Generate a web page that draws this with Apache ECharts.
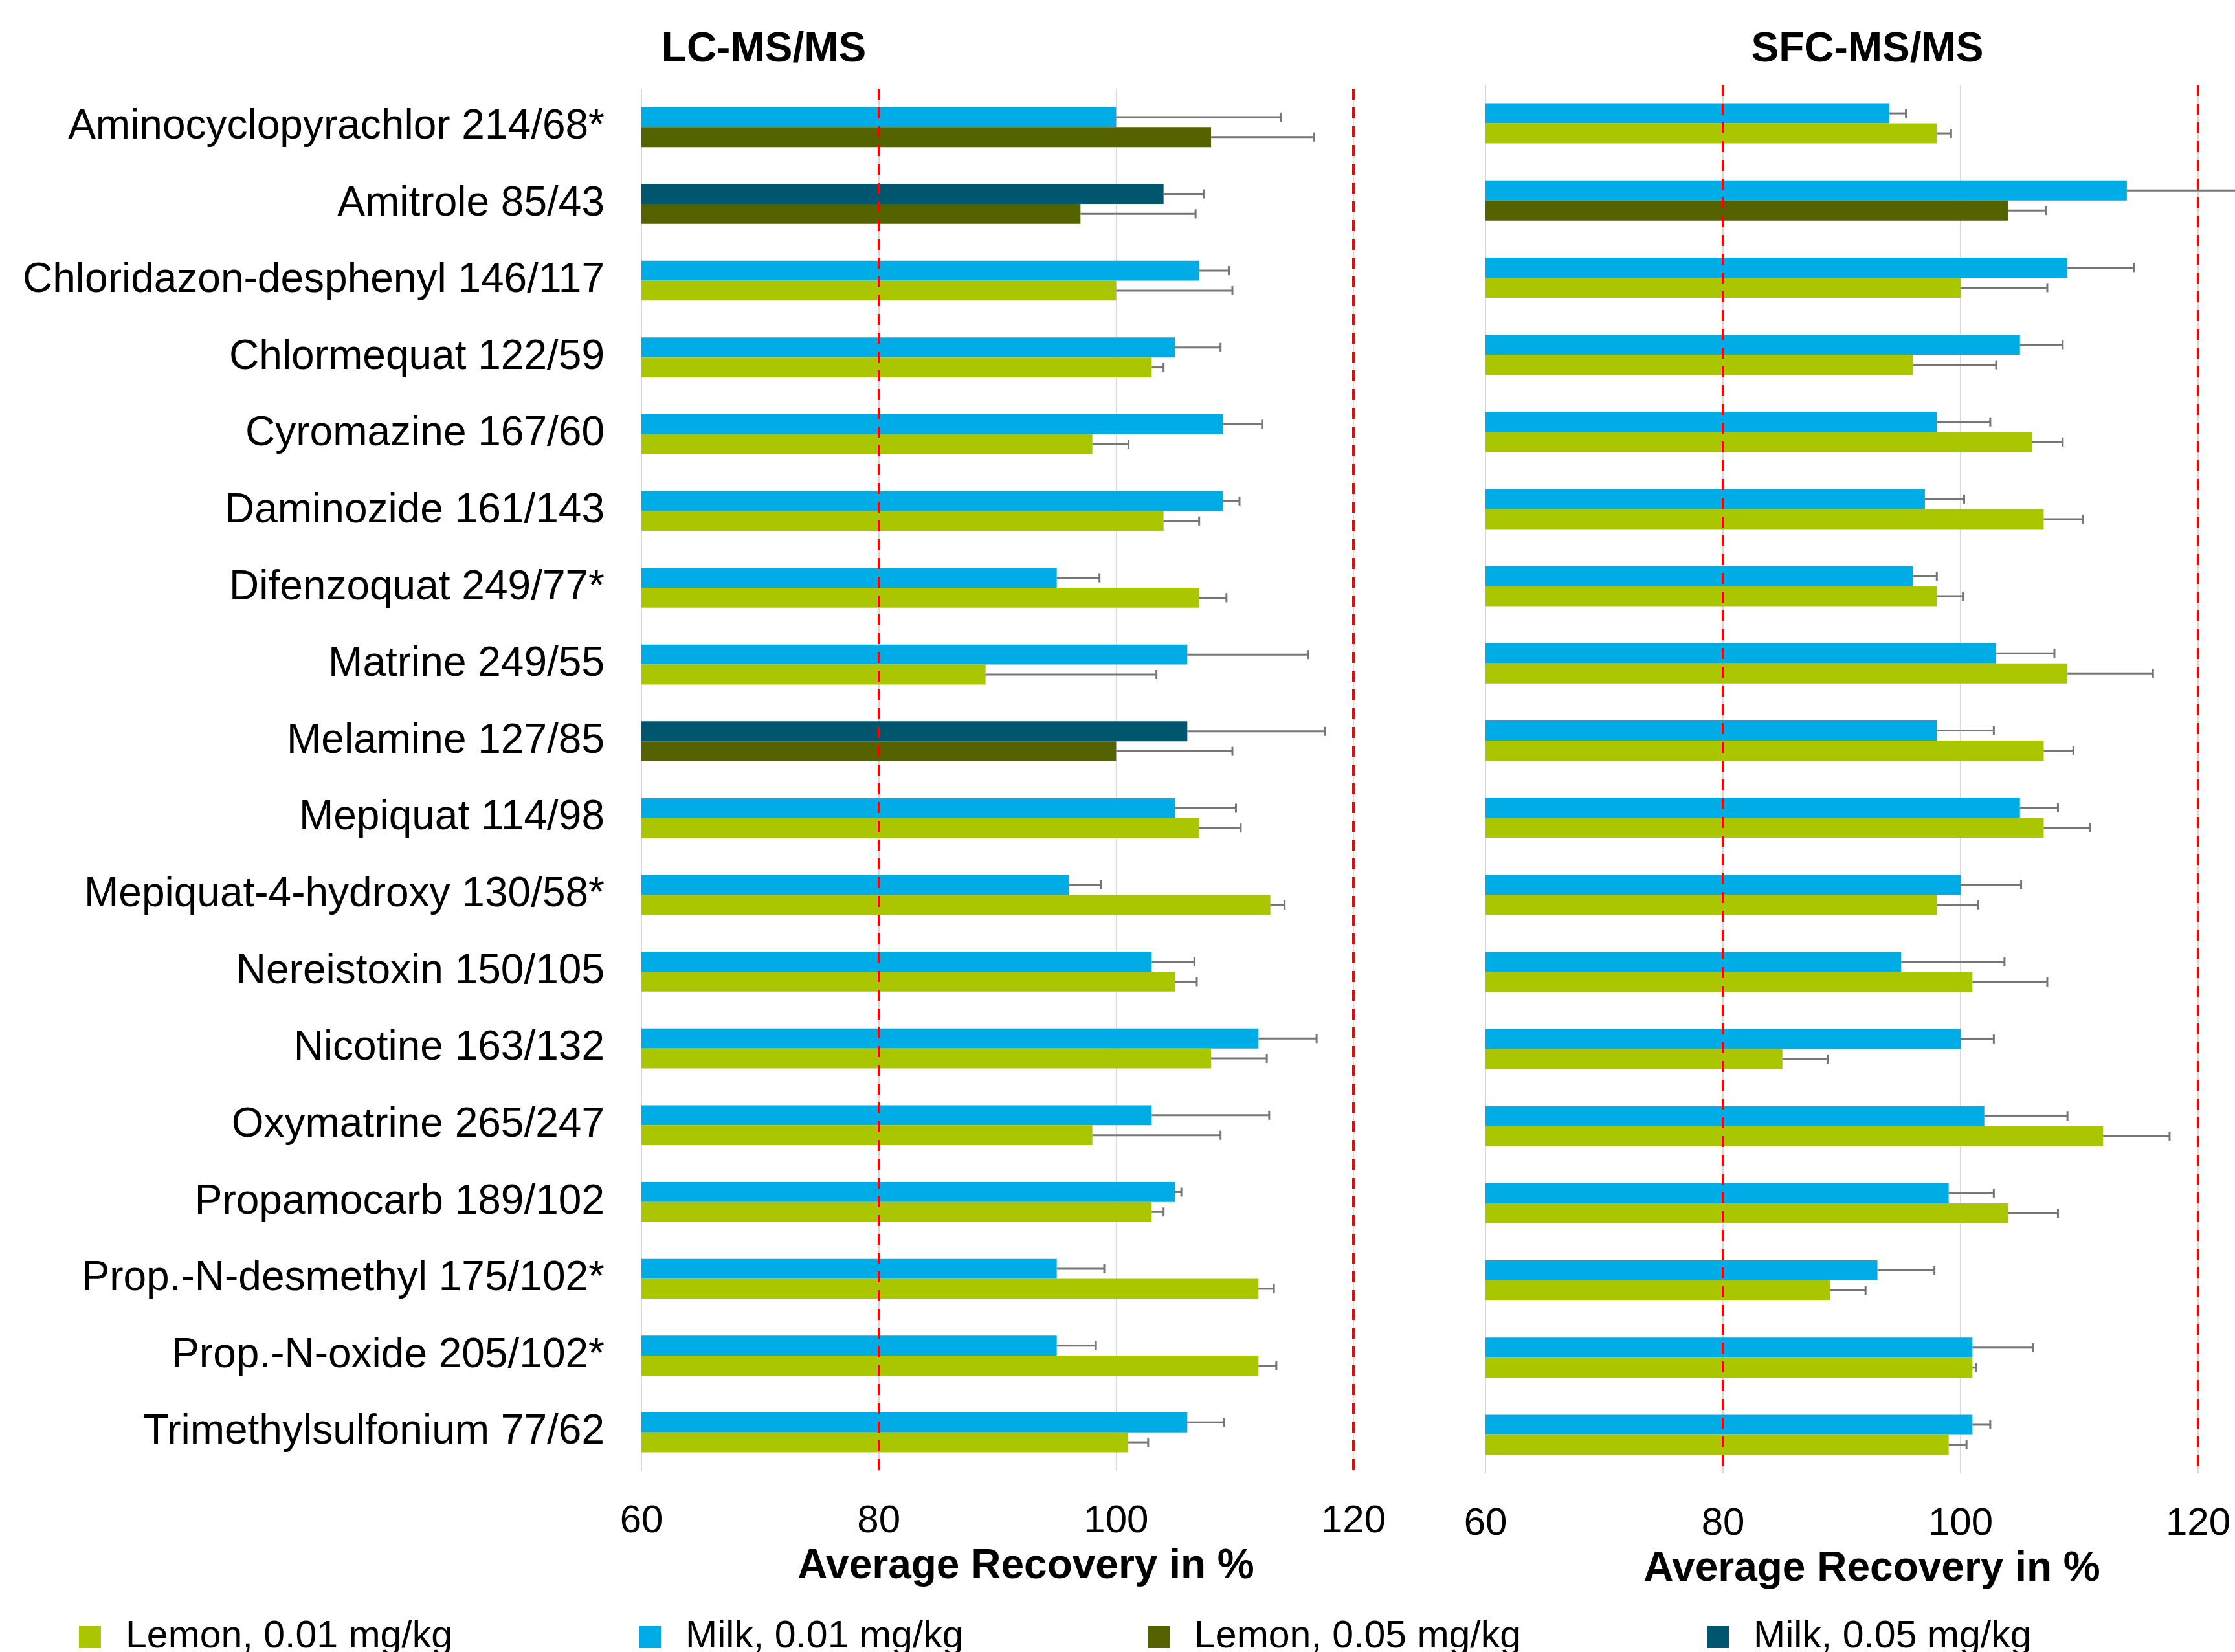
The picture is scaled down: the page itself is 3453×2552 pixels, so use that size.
<!DOCTYPE html>
<html><head><meta charset="utf-8">
<script src="https://cdn.jsdelivr.net/npm/echarts@6/dist/echarts.min.js"></script>
<style>html,body{margin:0;padding:0;background:#fff}#c{width:3453px;height:2552px}</style>
</head><body><div id="c"></div>
<script>
const categories = ['Aminocyclopyrachlor 214/68*','Amitrole 85/43','Chloridazon-desphenyl 146/117','Chlormequat 122/59','Cyromazine 167/60','Daminozide 161/143','Difenzoquat 249/77*','Matrine 249/55','Melamine 127/85','Mepiquat 114/98','Mepiquat-4-hydroxy 130/58*','Nereistoxin 150/105','Nicotine 163/132','Oxymatrine 265/247','Propamocarb 189/102','Prop.-N-desmethyl 175/102*','Prop.-N-oxide 205/102*','Trimethylsulfonium 77/62'];

// LC-MS/MS
const lcMilk      = [100,104,107,105,109,109,95,106,106,105,96,103,112,103,105,95,95,106];
const lcMilkErr   = [13.9,3.4,2.5,3.8,3.3,1.4,3.6,10.2,11.6,5.1,2.7,3.6,4.9,9.9,0.5,4.0,3.3,3.1];
const lcMilkConc  = ['0.01','0.05','0.01','0.01','0.01','0.01','0.01','0.01','0.05','0.01','0.01','0.01','0.01','0.01','0.01','0.01','0.01','0.01'];
const lcLemon     = [108,97,100,103,98,104,107,89,100,107,113,105,108,98,103,112,112,101];
const lcLemonErr  = [8.7,9.7,9.8,1.0,3.05,3.0,2.3,14.4,9.8,3.5,1.2,1.8,4.7,10.8,1.0,1.3,1.5,1.7];
const lcLemonConc = ['0.05','0.05','0.01','0.01','0.01','0.01','0.01','0.01','0.05','0.01','0.01','0.01','0.01','0.01','0.01','0.01','0.01','0.01'];

// SFC-MS/MS
const sfcMilk      = [94,114,109,105,98,97,96,103,98,105,100,95,100,102,99,93,101,101];
const sfcMilkErr   = [1.4,10,5.6,3.6,4.5,3.3,2.0,4.9,4.8,3.2,5.1,8.7,2.8,7.0,3.8,4.8,5.1,1.5];
const sfcMilkConc  = ['0.01','0.01','0.01','0.01','0.01','0.01','0.01','0.01','0.01','0.01','0.01','0.01','0.01','0.01','0.01','0.01','0.01','0.01'];
const sfcLemon     = [98,104,100,96,106,107,98,109,107,107,98,101,85,112,104,89,101,99];
const sfcLemonErr  = [1.2,3.2,7.3,7.0,2.6,3.3,2.2,7.2,2.5,3.9,3.5,6.3,3.8,5.6,4.2,3.0,0.3,1.5];
const sfcLemonConc = ['0.01','0.05','0.01','0.01','0.01','0.01','0.01','0.01','0.01','0.01','0.01','0.01','0.01','0.01','0.01','0.01','0.01','0.01'];

const legendNames = ['Lemon, 0.01 mg/kg','Milk, 0.01 mg/kg','Lemon, 0.05 mg/kg','Milk, 0.05 mg/kg'];
const panelTitles = ['LC-MS/MS','SFC-MS/MS'];
const axisTitle = 'Average Recovery in %';
const limitLines = [80, 120];

const FONT = '"Liberation Sans", Arial, sans-serif';
const COLORS = {lemon01:'#A9C600', milk01:'#00ACE6', lemon05:'#546300', milk05:'#00566F'};
const ERR_COLOR = '#767676';
const BAR_FRAC = 0.52;

function barData(values, conc, kind) {
  return values.map((v,i)=>({value:v, itemStyle:{color: conc[i]==='0.05' ? COLORS[kind+'05'] : COLORS[kind+'01']}}));
}
function errSeries(g, values, errs, slot) {
  return {
    type:'custom', name:'err'+g+slot, xAxisIndex:g, yAxisIndex:g, silent:true, z:5, clip:false,
    data: values.map((v,i)=>[v, i, errs[i]]),
    encode:{x:0, y:1},
    renderItem(params, api){
      const v = api.value(0), idx = api.value(1), e = api.value(2);
      const band = api.size([0,1])[1];
      const off = slot * band * BAR_FRAC / 4;
      const p0 = api.coord([v, idx]);
      const p1 = api.coord([v+e, idx]);
      const y = p0[1] + off;
      return {type:'group', children:[
        {type:'line', shape:{x1:p0[0], y1:y, x2:p1[0], y2:y}, style:{stroke:ERR_COLOR, lineWidth:3}},
        {type:'line', shape:{x1:p1[0], y1:y-7, x2:p1[0], y2:y+7}, style:{stroke:ERR_COLOR, lineWidth:3}}
      ]};
    }
  };
}
function barSeries(g, name, values, conc, kind, withMark) {
  const s = {
    type:'bar', name:name, xAxisIndex:g, yAxisIndex:g,
    barCategoryGap:'48%', barGap:'0%',
    itemStyle:{color: COLORS[kind+'01']},
    data: barData(values, conc, kind)
  };
  if (withMark) {
    s.markLine = {silent:true, symbol:['none','none'], label:{show:false},
      lineStyle:{color:'#FF0000', width:4, type:[17,12]},
      data: limitLines.map(v=>({xAxis:v}))};
  }
  return s;
}
function xAx(g){
  return {gridIndex:g, type:'value', min:60, max:120, interval:20,
    axisLine:{show:false}, axisTick:{show:false},
    axisLabel:{fontSize:60, color:'#000', margin:48, fontFamily:FONT},
    splitLine:{show:true, lineStyle:{color:'#D9D9D9', width:2}}};
}
function yAx(g, showLabel){
  return {gridIndex:g, type:'category', data:categories, inverse:true,
    axisLine:{show:false}, axisTick:{show:false}, splitLine:{show:false},
    axisLabel:{show:showLabel, fontSize:64, lineHeight:64, color:'#000', margin:57, fontFamily:FONT, padding:[16,0,0,0]}};
}
const legendLefts = [122, 987, 1773, 2637];
const legends = legendNames.map((n,i)=>({
  data:[n], left:legendLefts[i], top:2495, orient:'horizontal', padding:0,
  icon:'rect', itemWidth:34, itemHeight:34, selectedMode:false,
  textStyle:{fontSize:59, lineHeight:60, color:'#000', fontFamily:FONT, padding:[8,0,0,33]}
}));

const option = {
  animation:false,
  backgroundColor:'#fff',
  textStyle:{fontFamily:FONT},
  grid:[
    {left:991, top:137, width:1100, height:2135, containLabel:false},
    {left:2295, top:131, width:1101, height:2145, containLabel:false}
  ],
  xAxis:[xAx(0), xAx(1)],
  yAxis:[yAx(0,true), yAx(1,false)],
  legend: legends,
  graphic:[
    {type:'text', x:1180, y:77, style:{text:panelTitles[0], font:'bold 64px '+FONT, fill:'#000', textAlign:'center', textVerticalAlign:'middle'}},
    {type:'text', x:2885, y:77, style:{text:panelTitles[1], font:'bold 64px '+FONT, fill:'#000', textAlign:'center', textVerticalAlign:'middle'}},
    {type:'text', x:1585, y:2420, style:{text:axisTitle, font:'bold 64px '+FONT, fill:'#000', textAlign:'center', textVerticalAlign:'middle'}},
    {type:'text', x:2892, y:2424, style:{text:axisTitle, font:'bold 64px '+FONT, fill:'#000', textAlign:'center', textVerticalAlign:'middle'}}
  ],
  series:[
    barSeries(0, legendNames[1], lcMilk, lcMilkConc, 'milk', true),
    barSeries(0, legendNames[0], lcLemon, lcLemonConc, 'lemon', false),
    barSeries(1, legendNames[1], sfcMilk, sfcMilkConc, 'milk', true),
    barSeries(1, legendNames[0], sfcLemon, sfcLemonConc, 'lemon', false),
    errSeries(0, lcMilk, lcMilkErr, -1),
    errSeries(0, lcLemon, lcLemonErr, 1),
    errSeries(1, sfcMilk, sfcMilkErr, -1),
    errSeries(1, sfcLemon, sfcLemonErr, 1),
    {type:'line', name:legendNames[2], xAxisIndex:0, yAxisIndex:0, data:[], itemStyle:{color:COLORS.lemon05}, lineStyle:{color:COLORS.lemon05}},
    {type:'line', name:legendNames[3], xAxisIndex:0, yAxisIndex:0, data:[], itemStyle:{color:COLORS.milk05}, lineStyle:{color:COLORS.milk05}}
  ]
};
const chart = echarts.init(document.getElementById('c'), null, {renderer:'canvas'});
chart.setOption(option);
</script>
</body></html>
